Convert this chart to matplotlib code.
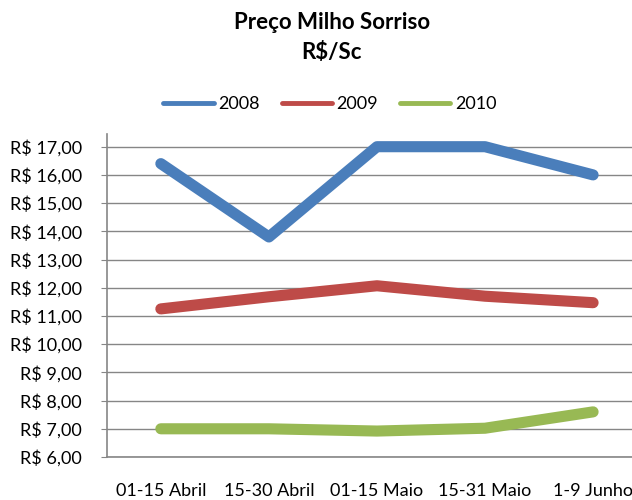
import matplotlib
matplotlib.use("Agg")
import matplotlib.pyplot as plt
from matplotlib.ticker import FuncFormatter

# Data
periods = ["01-15 Abril", "15-30 Abril", "01-15 Maio", "15-31 Maio", "1-9 Junho"]
years = ["2008", "2009", "2010"]
price_2008 = [16.4, 13.8, 17.0, 17.0, 16.0]
price_2009 = [11.25, 11.68, 12.07, 11.7, 11.47]
price_2010 = [7.0, 7.0, 6.92, 7.02, 7.6]
colors = ["#4A7EBB", "#BE4B48", "#98B954"]

plt.rcParams['font.family'] = ['Lato', 'DejaVu Sans']

fig = plt.figure(figsize=(6.32, 5), dpi=100)
ax = fig.add_axes([0.169, 0.086, 0.831, 0.646])

x = range(len(periods))
for yr, vals, c in zip(years, [price_2008, price_2009, price_2010], colors):
    ax.plot(x, vals, color=c, linewidth=8, label=yr,
            solid_capstyle="round", solid_joinstyle="round", clip_on=False)

ax.set_xlim(-0.5, 4.36)
ax.set_ylim(6, 17.45)
ax.set_yticks(range(6, 18))
ax.yaxis.set_major_formatter(FuncFormatter(lambda v, p: f"R$ {v:.2f}".replace(".", ",")))
ax.set_xticks(list(x))
ax.set_xticklabels(periods)

ax.grid(axis="y", color="#868686", linewidth=1)
ax.set_axisbelow(True)
for s in ["top", "right"]:
    ax.spines[s].set_visible(False)
for s in ["left", "bottom"]:
    ax.spines[s].set_color("#868686")
    ax.spines[s].set_linewidth(1.2)
ax.tick_params(axis="y", length=4, color="#868686", labelsize=13, pad=14)
ax.tick_params(axis="x", length=0, labelsize=13, pad=19)

fig.text(0.525, 0.955, "Preço Milho Sorriso", ha="center", va="center",
         fontsize=16, fontweight="bold")
fig.text(0.525, 0.895, "R$/Sc", ha="center", va="center",
         fontsize=16, fontweight="bold")

fig.legend(loc="center", bbox_to_anchor=(0.522, 0.792), ncol=3, frameon=False,
           fontsize=13, handlelength=2.8, handletextpad=0.25, columnspacing=1.2)
for h in fig.legends[0].get_lines():
    h.set_linewidth(3.5)

fig.savefig("out.png", dpi=100)
